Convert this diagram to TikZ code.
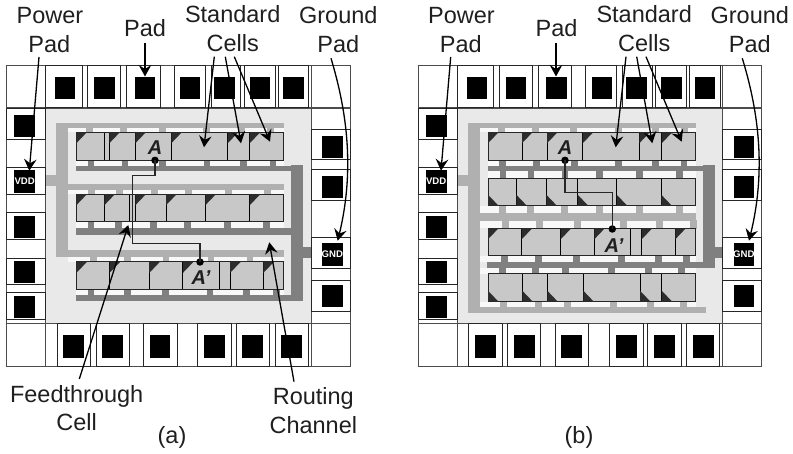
\documentclass[tikz,border=0pt]{standalone}
\usepackage{fontspec}
\setmainfont{Liberation Sans}
\usetikzlibrary{arrows.meta}
\definecolor{corefill}{HTML}{E9E9E9}
\definecolor{lightrail}{HTML}{B0B0B0}
\definecolor{darkrail}{HTML}{808080}
\definecolor{cellfill}{HTML}{C8C8C8}
\definecolor{trifill}{HTML}{2D2D2D}
\definecolor{stripfill}{HTML}{F8F8F8}
\tikzset{
  x=1pt,y=-1pt,
  lbl/.style={font=\fontsize{23.5}{24}\selectfont,text=black!88,anchor=base,inner sep=0pt},
  padtxt/.style={font=\fontsize{9.6}{10}\bfseries\selectfont,text=white,inner sep=0pt},
  pinlbl/.style={font=\fontsize{20}{20}\bfseries\itshape\selectfont,text=black!88,anchor=base,inner sep=0pt},
  padbox/.style={draw=black!85,line width=1pt,fill=white},
  frameline/.style={draw=black!70,line width=1.1pt},
  ptr/.style={draw=black,line width=1.3pt,-{Stealth[length=11.5pt,width=12.5pt,inset=4pt]}},
  wire/.style={draw=black!85,line width=1.1pt},
  pin/.style={circle,fill=black,inner sep=0pt,minimum size=7.5pt},
}
% horizontal pad: x0,x1 ; square x0
\newcommand{\hpad}[6]{\draw[padbox] (#1,#5) rectangle (#2,#6);\fill[black] (#3,#5+11) rectangle (#4,#5+33.5);}
\newcommand{\vpadbox}[4]{\draw[padbox] (#1,#3) rectangle (#2,#4);}
\newcommand{\sq}[4]{\fill[black] (#1,#3) rectangle (#2,#4);}
% strip between a rail and a row: x0,x1,y0,y1,stub colour,stub lefts,stub width
\newcommand{\stubstrip}[6]{\fill[stripfill] (#1,#3) rectangle (#2,#4);
  \foreach \s in {#6} {\fill[#5] (\s,#3-.5) rectangle (\s+6.5,#4+.5);}}
% cell row: x0,x1,y0,y1,dividers
\newcommand{\cellrow}[5]{\fill[cellfill] (#1,#3) rectangle (#2,#4);
  \foreach \d in {#5} {\draw[black,line width=1pt] (\d,#3) -- (\d,#4);}
  \draw[black!85,line width=1pt] (#1,#3) rectangle (#2,#4);}
\newcommand{\tritop}[2]{\foreach \t in {#2} {\fill[trifill] (\t,#1) -- (\t+10.5,#1) -- (\t,#1+11) -- cycle;}}
\newcommand{\tribot}[2]{\foreach \t in {#2} {\fill[trifill] (\t,#1) -- (\t+10.5,#1) -- (\t,#1-11) -- cycle;}}
% the pad ring shared by both panels
\newcommand{\padring}{%
  \fill[corefill] (45.7,108) rectangle (311.3,323.3);
  \draw[frameline] (6.7,65.7) rectangle (350.3,366.7);
  \draw[frameline] (6.7,108) -- (45.7,108) (45.7,65.7) -- (45.7,366.7) (6.7,323.3) -- (350.3,323.3)
     (45.7,108) -- (350.3,108) (311.3,65.7) -- (311.3,366.7);
  \hpad{45.7}{82}{55}{75.3}{65.7}{108}
  \hpad{87.7}{120.7}{94}{114.7}{65.7}{108}
  \hpad{126.7}{160.3}{134.7}{155.3}{65.7}{108}
  \hpad{174.3}{205}{180}{200}{65.7}{108}
  \hpad{211}{240.7}{214.3}{235}{65.7}{108}
  \hpad{244.3}{275}{249.7}{270.3}{65.7}{108}
  \hpad{278.3}{308.7}{283}{303.7}{65.7}{108}
  \foreach \a/\b/\c/\d in {108.3/139.3/114.7/136.7,167.7/194.3/170/192.7,213/239.3/215.7/237.7,258.3/284.3/261/283,293/319.3/295.7/317.7} {
    \vpadbox{6.7}{45.7}{\a}{\b}\sq{14.3}{35}{\c}{\d}}
  \foreach \a/\b/\c/\d in {129.3/160/136/158.3,170/200.7/175.7/197.7,237.3/268.3/243.3/265.7,280.7/311.3/285/307.3} {
    \vpadbox{311.3}{350.3}{\a}{\b}\sq{322}{342.7}{\c}{\d}}
  \foreach \a/\b/\c/\d in {57/90.7/63.3/84,96/129.3/102.3/123,143.7/177/149.7/170.3,197.7/231.7/204.3/225,236/269.7/242.3/263,275.3/308.3/281.3/302} {
    \vpadbox{\a}{\b}{323.3}{366.7}\sq{\c}{\d}{335.3}{358}}
  \node[padtxt] (vdd\panel) at (24.7,181.5) {VDD};
  \node[padtxt] (gnd\panel) at (332.4,254.5) {GND};
}
\begin{document}
\begin{tikzpicture}
\useasboundingbox (0,0) rectangle (793,454);
% ---------- panel (a) ----------
\def\panel{a}
\padring
\stubstrip{68}{284}{128}{132.3}{lightrail}{86,120,159,203,238,267}
\stubstrip{76.3}{284}{160.3}{166}{darkrail}{87.5,121.5,159.3,203.7,240,269.5}
\stubstrip{68}{284}{189.7}{194.3}{lightrail}{88,116,151,185,225,264}
\stubstrip{76.3}{284}{222}{227.7}{darkrail}{87.5,115,150,184,224,263}
\stubstrip{68}{284}{256.7}{262}{lightrail}{90,124,162.5,207.5,246.5}
\stubstrip{76.3}{284}{290}{295}{darkrail}{87.5,124,162,206.5,243,273}
\fill[lightrail] (56,123) rectangle (284,128);
\fill[lightrail] (56,123) rectangle (68,256.7);
\fill[lightrail] (56,250) rectangle (284,256.7);
\fill[lightrail] (68,184.3) rectangle (284,189.7);
\fill[lightrail] (46.3,175) rectangle (56,185.7);
\fill[darkrail] (76,166) rectangle (291,170.7);
\fill[darkrail] (76,227.7) rectangle (291,235);
\fill[darkrail] (76,295) rectangle (303,300.7);
\fill[darkrail] (291,165) rectangle (303,300.7);
\fill[darkrail] (303,247.3) rectangle (310.8,257.7);
\cellrow{76.3}{283.7}{132.3}{160.3}{104.3,109.3,135.3,171.3,227.7,249.7}
\tritop{132.3}{76.3,109.3,135.3,171.3,227.7,249.7}
\cellrow{76.3}{283.7}{194.3}{222}{104.3,129.3,135.3,166,205.3,249.7}
\tritop{194.3}{76.3,104.3,135.3,166,205.3,249.7}
\cellrow{76.3}{283.7}{262}{290}{109.5,149.2,182.8,219,230,263.3}
\tritop{262}{76.3,109.5,149.2,182.8,230,263.3}
\node[pin] (pinAa) at (155,160.3) {};
\node[pin] (pinBa) at (200,262) {};
\coordinate (wa1) at (155,175.7);
\coordinate (wa2) at (132.3,175.7);
\coordinate (wa3) at (132.3,243.3);
\coordinate (wa4) at (200,243.3);
\draw[wire] (pinAa.center) -- (wa1) -- (wa2) -- (wa3) -- (wa4) -- (pinBa.center);
\node[pinlbl] (labAa) at (155,154.3) {A};
\node[pinlbl] (labBa) at (201,285) {A'};
% labels (a)
\node[lbl] (powerA) at (50,24) {Power};
\node[lbl] (powerpadA) at (49.3,52.7) {Pad};
\node[lbl] (padA) at (145,36.7) {Pad};
\node[lbl] (stdA) at (232.7,22.7) {Standard};
\node[lbl] (cellsA) at (232.7,51.7) {Cells};
\node[lbl] (groundA) at (338.3,24) {Ground};
\node[lbl] (groundpadA) at (338.3,52.7) {Pad};
\node[lbl] (feedA) at (76.7,402.3) {Feedthrough};
\node[lbl] (feedcellA) at (76.7,431) {Cell};
\node[lbl] (routA) at (313.3,405) {Routing};
\node[lbl] (routchA) at (313.3,434) {Channel};
\node[lbl] (capA) at (172,443) {(a)};
\coordinate (a1s) at (39,57); \coordinate (a1e) at (29.3,170.7);
\coordinate (a2s) at (145,43); \coordinate (a2e) at (145,76.5);
\coordinate (a3s) at (214.3,56.7); \coordinate (a3e) at (204,147.3);
\coordinate (a4s) at (225.3,56.7); \coordinate (a4e) at (241,143.3);
\coordinate (a5s) at (234.3,56.7); \coordinate (a5e) at (270,141.7);
\coordinate (a6s) at (331,58.3); \coordinate (a6e) at (337.7,240.7);
\coordinate (a7s) at (79.3,379); \coordinate (a7e) at (128.3,225);
\coordinate (a8s) at (294,381.7); \coordinate (a8e) at (269.3,242.3);
\draw[ptr] (a1s) -- (a1e);
\draw[ptr] (a2s) -- (a2e);
\draw[ptr] (a3s) -- (a3e);
\draw[ptr] (a4s) -- (a4e);
\draw[ptr] (a5s) -- (a5e);
\draw[ptr] (a6s) .. controls (345,105) and (356,165) .. (a6e);
\draw[ptr] (a7s) -- (a7e);
\draw[ptr] (a8s) -- (a8e);
% ---------- panel (b) ----------
\begin{scope}[xshift=411.5pt]
\def\panel{b}
\padring
\end{scope}
\stubstrip{480}{696}{128}{132.3}{lightrail}{498.3,532,570,615,652,681}
\stubstrip{488}{696}{160.3}{166}{darkrail}{499,533,571,615,652,680.7}
\stubstrip{488}{696}{170.7}{178.3}{darkrail}{499.5,527.5,561.7,596,636,676}
\stubstrip{480}{696}{205.7}{213.3}{lightrail}{499,527,561,596,636,676}
\stubstrip{480}{696}{220.7}{228.3}{lightrail}{502,536,574,620,656,690}
\stubstrip{480}{696}{256}{261.7}{darkrail}{501,535,573,618,655,683}
\stubstrip{480}{696}{267.7}{274}{darkrail}{499,532,562,608,645,678}
\stubstrip{480}{696}{301.7}{307.3}{lightrail}{500,535,564,610,647,680}
\fill[lightrail] (468,123) rectangle (696,128);
\fill[lightrail] (468,123) rectangle (480,312.7);
\fill[lightrail] (480,213.3) rectangle (696,220.7);
\fill[lightrail] (468,307.3) rectangle (706,312.7);
\fill[lightrail] (458.2,175) rectangle (468,185.7);
\fill[darkrail] (488,166) rectangle (703.3,170.7);
\fill[darkrail] (487,261.7) rectangle (715,267.7);
\fill[darkrail] (703.3,165) rectangle (715,267.7);
\fill[darkrail] (715,247.3) rectangle (722.2,257.7);
\cellrow{488}{695.3}{132.3}{160.3}{522,547,582.7,639.3,661.7}
\tritop{132.3}{488,522,547,582.7,639.3,661.7}
\cellrow{488}{695.3}{178.3}{205.7}{516.3,546.3,577.7,616.7,661.3}
\tribot{205.7}{488,516.3,546.3,577.7,616.7,661.3}
\cellrow{488}{695.3}{228.3}{256}{521.7,560.7,594.3,630.7,641.7,675.3}
\tritop{228.3}{488,521.7,560.7,594.3,641.7,675.3}
\cellrow{488}{695.3}{274}{301.7}{522.3,547.3,583.3,640,661.7}
\tribot{301.7}{488,522.3,547.3,583.3,640,661.7}
\node[pin] (pinAb) at (565,160.3) {};
\node[pin] (pinBb) at (612.3,229) {};
\coordinate (wb1) at (565,192.7);
\coordinate (wb2) at (612.3,192.7);
\draw[wire] (pinAb.center) -- (wb1) -- (wb2) -- (pinBb.center);
\node[pinlbl] (labAb) at (565,155) {A};
\node[pinlbl] (labBb) at (614,252.3) {A'};
% labels (b)
\node[lbl] (powerB) at (461.5,24) {Power};
\node[lbl] (powerpadB) at (460.8,52.7) {Pad};
\node[lbl] (padB) at (556.5,36.7) {Pad};
\node[lbl] (stdB) at (644.2,22.7) {Standard};
\node[lbl] (cellsB) at (644.2,51.7) {Cells};
\node[lbl] (groundB) at (749.8,24) {Ground};
\node[lbl] (groundpadB) at (749.8,52.7) {Pad};
\node[lbl] (capB) at (579,443) {(b)};
\coordinate (b1s) at (450.7,57); \coordinate (b1e) at (441,170.7);
\coordinate (b2s) at (556,43); \coordinate (b2e) at (556,76.5);
\coordinate (b3s) at (626,56.7); \coordinate (b3e) at (615.7,147.3);
\coordinate (b4s) at (636.7,56.7); \coordinate (b4e) at (652.3,143.3);
\coordinate (b5s) at (646,56.7); \coordinate (b5e) at (681.7,141.7);
\coordinate (b6s) at (742.3,58.3); \coordinate (b6e) at (749,240.7);
\draw[ptr] (b1s) -- (b1e);
\draw[ptr] (b2s) -- (b2e);
\draw[ptr] (b3s) -- (b3e);
\draw[ptr] (b4s) -- (b4e);
\draw[ptr] (b5s) -- (b5e);
\draw[ptr] (b6s) .. controls (756.5,105) and (767.5,165) .. (b6e);
\end{tikzpicture}
\end{document}
